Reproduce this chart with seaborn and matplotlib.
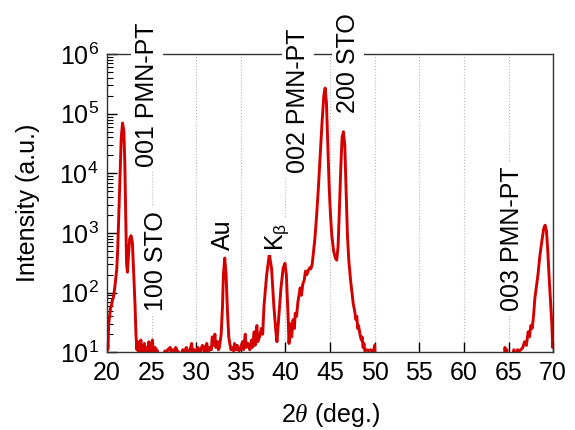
"""XRD theta-2theta scan of PMN-PT on STO, log intensity."""
# %%
import numpy as np
import pandas as pd
import seaborn as sns
import matplotlib
matplotlib.use("Agg")
import matplotlib.pyplot as plt
from matplotlib.ticker import LogLocator, MultipleLocator

# %%
# values
two_theta = [
    20.0, 20.05, 20.1, 20.2, 20.3, 20.4, 20.5, 20.6, 20.7, 20.8, 20.9, 21.0,
    21.1, 21.2, 21.3, 21.4, 21.5, 21.6, 21.75, 21.9, 22.0, 22.1, 22.2, 22.3,
    22.4, 22.55, 22.7, 22.85, 22.95, 23.05, 23.15, 23.25, 23.35, 23.45, 23.55,
    23.6, 23.7, 23.8, 23.9, 24.0, 24.1, 24.2, 24.3, 24.4, 24.6, 24.7, 24.8,
    25.0, 25.1, 25.2, 25.4, 25.5, 25.6, 25.8, 26.0, 26.5, 26.6, 26.8, 27.1,
    27.2, 27.4, 27.5, 27.7, 27.9, 28.3, 28.5, 28.7, 28.9, 29.1, 29.3, 29.5,
    29.6, 29.8, 30.0, 30.2, 30.4, 30.5, 30.7, 30.9, 31.0, 31.2, 31.3, 31.5,
    31.7, 31.8, 31.9, 32.1, 32.2, 32.4, 32.5, 32.6, 32.8, 32.95, 33.05, 33.2,
    33.35, 33.5, 33.65, 33.8, 33.9, 34.0, 34.2, 34.3, 34.5, 34.6, 34.8, 35.0,
    35.2, 35.3, 35.5, 35.6, 35.8, 36.0, 36.2, 36.3, 36.5, 36.6, 36.8, 36.9,
    37.1, 37.3, 37.45, 37.6, 37.9, 38.2, 38.45, 38.7, 38.9, 39.05, 39.2, 39.5,
    39.75, 39.95, 40.1, 40.3, 40.4, 40.55, 40.7, 40.85, 41.0, 41.1, 41.25,
    41.4, 41.55, 41.65, 41.8, 41.95, 42.1, 42.25, 42.4, 42.55, 42.7, 42.85,
    43.0, 43.15, 43.3, 43.5, 43.7, 43.9, 44.1, 44.3, 44.45, 44.6, 44.75, 44.9,
    45.05, 45.2, 45.4, 45.6, 45.75, 45.9, 46.05, 46.2, 46.35, 46.5, 46.65,
    46.8, 46.95, 47.1, 47.3, 47.45, 47.6, 47.75, 47.9, 48.0, 48.1, 48.2,
    48.35, 48.5, 48.6, 48.7, 48.8, 48.9, 49.1, 49.3, 49.5, 49.7, 49.9, 50.0,
    50.1, 64.5, 64.6, 64.7, 64.8, 64.9, 65.2, 65.6, 65.8, 66.0, 66.2, 66.4,
    66.6, 66.8, 67.0, 67.2, 67.35, 67.5, 67.65, 67.8, 67.95, 68.1, 68.3, 68.5,
    68.75, 68.95, 69.1, 69.25, 69.4, 69.55, 69.7, 69.85, 69.95, 70.0,
]
intensity = [
    12, 25, 11, 30, 40, 55, 60, 75, 80, 100, 130, 180,
    250, 500, 1500, 5000, 15000, 40000, 70000, 50000, 15000, 2000, 300, 220,
    400, 800, 900, 700, 300, 130, 60, 20, 11, 15, 9,
    14, 10, 16, 9, 13, 8, 14, 9, 12, 8, 15, 9,
    12, 16, 9, 12, 8, 11, 7, 6, 10.5, 8, 11, 12,
    9, 11, 8, 12, 10.5, 9, 11, 10.5, 12, 9, 11, 14,
    9, 11, 10.5, 12, 9, 11, 13, 10, 12, 14, 9, 12,
    11, 18, 13, 20, 12, 15, 11, 12, 20, 60, 200, 380,
    200, 50, 18, 13, 11, 12, 10.5, 14, 11, 13, 10.5, 12,
    15, 11, 20, 12, 14, 11, 16, 12, 22, 13, 28, 15,
    18, 25, 20, 60, 200, 440, 250, 60, 25, 15, 30, 120,
    260, 310, 200, 40, 14, 30, 18, 35, 25, 45, 40,
    70, 95, 120, 90, 140, 160, 230, 200, 230, 260, 250,
    300, 500, 800, 2000, 6000, 20000, 70000, 200000, 270000, 150000, 30000, 6000,
    2000, 900, 500, 380, 350, 600, 2500, 12000, 40000, 50000, 30000,
    5000, 900, 350, 160, 100, 65, 50, 35, 40, 25, 28,
    20, 16, 18, 12, 14, 10.5, 11, 10.5, 11, 10.5, 11, 13,
    5, 5, 12, 9, 11, 8, 6, 11, 8, 11, 10.5, 11,
    12, 15, 13, 22, 18, 28, 25, 40, 80, 120, 200, 400,
    760, 1200, 1350, 1100, 500, 180, 75, 30, 12, 16,
]

# peak labels: text, 2theta position, intensity at the text's lower end
label_text = ["001 PMN-PT", "100 STO", "Au", "K$_{\\mathrm{\\beta}}$",
              "002 PMN-PT", "200 STO", "003 PMN-PT"]
label_x = [24.5, 25.55, 33.0, 39.2, 41.4, 47.0, 65.4]
label_y = [1.26e4, 50, 515, 500, 1.0e4, 1.02e5, 50]

# %%
sns.set_theme(style="ticks")
plt.rcParams["font.family"] = ["Liberation Sans", "DejaVu Sans"]
plt.rcParams["mathtext.fontset"] = "custom"
plt.rcParams["mathtext.rm"] = "Liberation Sans"
plt.rcParams["mathtext.it"] = "Liberation Serif:italic"
plt.rcParams["text.color"] = "black"
plt.rcParams["axes.labelcolor"] = "black"

df = pd.DataFrame({"two_theta": two_theta, "intensity": intensity})

fig = plt.figure(figsize=(5.75, 4.3), dpi=100)
ax = fig.add_axes([0.186, 0.181, 0.776, 0.693])

sns.lineplot(data=df, x="two_theta", y="intensity", ax=ax, estimator=None,
             sort=False, color="#d40000", linewidth=2.1)

ax.set_yscale("log")
ax.set_xlim(20, 70)
ax.set_ylim(10, 1e6)
ax.xaxis.set_major_locator(MultipleLocator(5))
ax.yaxis.set_major_locator(LogLocator(base=10))
ax.yaxis.set_minor_locator(LogLocator(base=10, subs=np.arange(2, 10)))

ax.grid(axis="x", which="major", color="#b8b8b8", linestyle=":", linewidth=0.8)
for side in ["top", "bottom", "left", "right"]:
    ax.spines[side].set_linewidth(1.0)
    ax.spines[side].set_color("#333333")

ax.tick_params(axis="both", which="major", direction="in", length=7, width=1,
               labelsize=18, pad=6, top=False, right=False, colors="black")
ax.tick_params(axis="y", which="minor", direction="in", length=4, width=0.8,
               right=False, colors="black")
ax.tick_params(axis="x", which="minor", bottom=False, top=False)

ax.set_xlabel("2$\\mathit{\\theta}$ (deg.)", fontsize=18, labelpad=12,
              color="black")
ax.set_ylabel("Intensity (a.u.)", fontsize=18, labelpad=14, color="black")

for txt, xx, yy in zip(label_text, label_x, label_y):
    ax.text(xx, yy, txt, rotation=90, ha="center", va="bottom", fontsize=18,
            color="black", zorder=5,
            bbox=dict(facecolor="white", edgecolor="none", pad=3))

plt.savefig("out.png", dpi=100)
